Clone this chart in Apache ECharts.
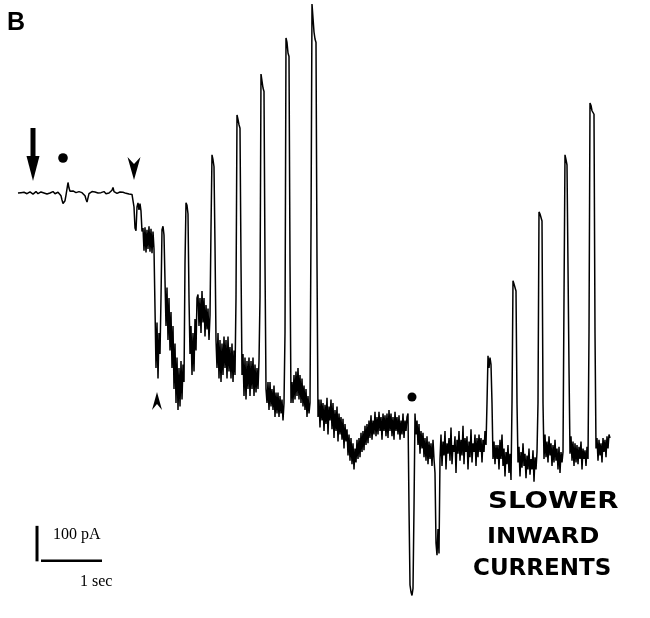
<!DOCTYPE html>
<html>
<head>
<meta charset="utf-8">
<script src="https://cdn.jsdelivr.net/npm/echarts@6/dist/echarts.min.js"></script>
<style>
html,body{margin:0;padding:0;background:#fff;}
#chart{width:650px;height:618px;}
</style>
</head>
<body>
<div id="chart"></div>
<script>
// Whole-cell current trace (pA), sampled every SAMPLE_DT seconds from t = 0
const SAMPLE_DT = 1 / 62;
const currentPA = [
  0, 2, 4, 1, -3, -1, 2, 3, 0, -2, -4, 0, 3, 2, -1, -3, 0, 2, 4, 1,
  -2, -4, 0, 3, 1, -2, 0, 4, 2, -3, -1, 2, 0, -3, 1, 4, 0, -2, -4, 1,
  2, 0, -3, -8, -20, -30, -34, -22, -6, 12, 30, 14, 5, 7, 3, 6, 2, 4, 1, 5,
  2, 4, 0, 3, 1, -2, -4, -8, -18, -26, -14, -2, 3, 1, 4, 2, 0, 3, 1, 4,
  0, -2, 3, 1, -1, 2, 4, 0, -2, 1, 3, 0, -3, 2, 8, 16, 4, 0, 2, -1,
  -3, 1, 3, 0, -2, 2, 4, 1, -1, 3, 0, -3, -1, 2, -4, -6, -40, -100, -108, -40,
  -28, -48, -30, -52, -110, -100, -165, -98, -170, -105, -160, -95, -168, -102, -172, -110, -160, -330, -500, -370,
  -530, -400, -460, -300, -105, -95, -120, -250, -380, -270, -420, -300, -450, -340, -500, -380, -560, -430, -600, -470,
  -620, -500, -610, -480, -590, -490, -540, -200, -28, -35, -60, -300, -460, -380, -520, -400, -510, -360, -450, -300,
  -290, -380, -300, -400, -280, -370, -300, -410, -320, -390, -330, -420, -350, -100, 109, 95, 75, -150, -420, -500,
  -400, -530, -420, -540, -430, -520, -410, -500, -420, -530, -410, -510, -440, -530, -430, -540, -450, -520, -300, 223,
  210, 195, 185, -200, -520, -460, -580, -470, -590, -480, -560, -470, -580, -480, -560, -470, -580, -490, -570, -500,
  -560, -480, -300, 340, 320, 300, 290, -200, -560, -600, -540, -620, -540, -610, -560, -620, -550, -640, -570, -630,
  -570, -640, -580, -630, -590, -650, -600, -400, 443, 430, 400, 390, -200, -600, -540, -600, -520, -590, -510, -580,
  -500, -590, -520, -600, -530, -610, -550, -620, -560, -640, -580, -630, -600, -100, 540, 500, 460, 440, 430, -200,
  -640, -590, -670, -590, -650, -600, -680, -605, -660, -585, -690, -610, -650, -590, -675, -600, -700, -620, -680, -610,
  -710, -630, -690, -640, -705, -645, -730, -660, -710, -675, -750, -690, -765, -700, -775, -715, -790, -730, -770, -705,
  -760, -700, -755, -685, -740, -680, -735, -665, -720, -660, -715, -650, -700, -635, -705, -650, -690, -625, -695, -640,
  -690, -625, -680, -640, -705, -630, -680, -635, -695, -630, -700, -620, -680, -630, -695, -640, -705, -625, -680, -640,
  -690, -635, -705, -650, -690, -630, -700, -650, -680, -640, -630, -900, -1120, -1140, -1150, -1130, -900, -630, -690, -650,
  -720, -660, -745, -680, -730, -685, -755, -700, -765, -695, -775, -710, -760, -715, -780, -705, -760, -800, -1000, -1035,
  -960, -1030, -760, -690, -780, -710, -750, -680, -790, -715, -745, -700, -765, -670, -775, -720, -740, -695, -800, -705,
  -745, -680, -765, -705, -750, -665, -775, -700, -740, -695, -790, -710, -755, -675, -770, -715, -740, -690, -780, -700,
  -755, -690, -740, -700, -770, -705, -740, -680, -720, -600, -465, -500, -470, -490, -600, -760, -710, -775, -720, -760,
  -720, -790, -705, -760, -690, -780, -730, -810, -740, -775, -720, -800, -745, -820, -600, -251, -260, -270, -280, -600,
  -770, -725, -810, -740, -785, -715, -780, -745, -815, -750, -790, -730, -805, -760, -790, -735, -825, -755, -790, -740,
  -600, -54, -60, -70, -80, -600, -760, -690, -755, -710, -770, -695, -750, -715, -780, -720, -770, -705, -765, -730,
  -790, -725, -800, -740, -770, -740, -300, 109, 95, 80, 75, -500, -745, -695, -765, -710, -780, -715, -770, -720,
  -775, -725, -760, -710, -790, -730, -760, -735, -780, -725, -760, -400, 257, 250, 235, 230, 225, -400, -730, -700,
  -765, -705, -750, -715, -770, -700, -740, -705, -755, -695, -730, -690, -700
];
// Scale bars
const scaleBarPA = 100;
const scaleBarSec = 1;
const scaleBarLabels = ['100 pA', '1 sec'];
const panelLabel = 'B';
const noteLines = ['SLOWER', 'INWARD', 'CURRENTS'];

const trace = currentPA.map((v, i) => [i * SAMPLE_DT, v]);

const chart = echarts.init(document.getElementById('chart'), null, {renderer: 'canvas'});
chart.setOption({
  animation: false,
  backgroundColor: '#fff',
  grid: {left: 0, right: 0, top: 0, bottom: 0, containLabel: false},
  xAxis: {type: 'value', min: -18 / 62, max: 632 / 62, show: false},
  yAxis: {type: 'value', min: -425 * 100 / 35, max: 193 * 100 / 35, show: false},
  series: [{
    type: 'line',
    data: trace,
    showSymbol: false,
    sampling: null,
    lineStyle: {color: '#000', width: 1.5},
    silent: true
  }]
});

// scale bar anchored in data units
const origin = chart.convertToPixel({gridIndex: 0}, [0.355, -1051]);
const vTop = chart.convertToPixel({gridIndex: 0}, [0.355, -1051 + scaleBarPA]);
const hEnd = chart.convertToPixel({gridIndex: 0}, [0.355 + scaleBarSec, -1051]);

const font = '"Liberation Serif", "DejaVu Serif", serif';
const hand = '"DejaVu Sans", "Liberation Sans", sans-serif';
chart.setOption({
  graphic: [
    {type: 'text', x: 7, y: 11, style: {text: panelLabel, fontSize: 25, fontWeight: 'bold', fontFamily: '"Liberation Sans", Arial, sans-serif', fill: '#000'}},
    // big down arrow
    {type: 'rect', shape: {x: 30.5, y: 128, width: 5, height: 32}, style: {fill: '#000'}},
    {type: 'polygon', shape: {points: [[26.5, 156], [39.5, 156], [33, 181]]}, style: {fill: '#000'}},
    // dots
    {type: 'circle', shape: {cx: 63, cy: 158, r: 4.8}, style: {fill: '#000'}},
    {type: 'circle', shape: {cx: 412, cy: 397, r: 4.5}, style: {fill: '#000'}},
    // arrowheads
    {type: 'polygon', shape: {points: [[127.5, 157], [134, 164], [140.5, 157], [134, 180]]}, style: {fill: '#000'}},
    {type: 'polygon', shape: {points: [[152, 410], [157, 404], [162, 410], [157, 392]]}, style: {fill: '#000'}},
    // scale bars
    {type: 'line', shape: {x1: origin[0] - 3, y1: origin[1] + 0.5, x2: vTop[0] - 3, y2: vTop[1]}, style: {stroke: '#000', lineWidth: 3}},
    {type: 'line', shape: {x1: origin[0] + 1, y1: origin[1], x2: hEnd[0], y2: hEnd[1]}, style: {stroke: '#000', lineWidth: 2.5}},
    {type: 'text', x: 53, y: 527, style: {text: scaleBarLabels[0], fontSize: 16, fontFamily: font, fill: '#000'}},
    {type: 'text', x: 80, y: 574, style: {text: scaleBarLabels[1], fontSize: 16, fontFamily: font, fill: '#000'}},
    // handwritten note
    {type: 'text', x: 488, y: 491, scaleX: 1.2, style: {text: noteLines[0], fontSize: 23, fontWeight: 'bold', fontFamily: hand, fill: '#000'}},
    {type: 'text', x: 487, y: 526, scaleX: 1.1, style: {text: noteLines[1], fontSize: 22, fontWeight: 'bold', fontFamily: hand, fill: '#000'}},
    {type: 'text', x: 473, y: 558, scaleX: 1.0, style: {text: noteLines[2], fontSize: 23, fontWeight: 'bold', fontFamily: hand, fill: '#000'}}
  ]
});
</script>
</body>
</html>
